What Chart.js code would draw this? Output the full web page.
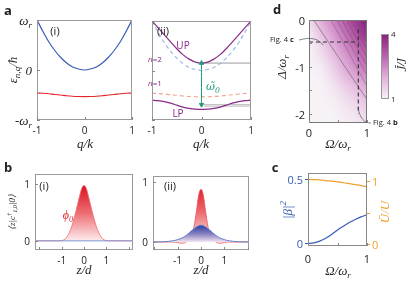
<!DOCTYPE html>
<html>
<head>
<meta charset="utf-8">
<script src="https://cdn.jsdelivr.net/npm/chart.js@4.4.1/dist/chart.umd.min.js"></script>
<style>
body{margin:0;background:#fff}
#fig{position:relative;width:415px;height:284px;overflow:hidden;font-family:'Open Sans',sans-serif;color:#222;background:#fff}
#fig canvas{position:absolute}
#fig svg{position:absolute;left:0;top:0}
.t{position:absolute;white-space:nowrap;font-size:10px;line-height:1}
.s{font-family:'Liberation Serif',serif;font-style:italic;font-size:12px}
.L{font-weight:bold;font-size:13px}
sub,sup{font-size:70%;line-height:0}
</style>
</head>
<body>
<div id="fig"></div>
<script>
// ---- data ----
// panel a : band energies vs q/k (in units of omega_r)
const qGrid = [-1,-0.875,-0.75,-0.625,-0.5,-0.375,-0.25,-0.125,0,0.125,0.25,0.375,0.5,0.625,0.75,0.875,1];
const bareUpper = [1,0.77,0.56,0.39,0.25,0.14,0.06,0.02,0,0.02,0.06,0.14,0.25,0.39,0.56,0.77,1];
const bareLower = [-0.46,-0.465,-0.475,-0.49,-0.5,-0.515,-0.525,-0.53,-0.532,-0.53,-0.525,-0.515,-0.5,-0.49,-0.475,-0.465,-0.46];
const upperPol = [1,0.86,0.72,0.58,0.44,0.32,0.23,0.17,0.15,0.17,0.23,0.32,0.44,0.58,0.72,0.86,1];
const lowerPol = [-0.6,-0.61,-0.63,-0.66,-0.7,-0.74,-0.765,-0.78,-0.785,-0.78,-0.765,-0.74,-0.7,-0.66,-0.63,-0.61,-0.6];
const upMin = 0.15, gapLow = -0.69, gapLow2 = -0.72;

// panel b : wavefunctions vs z/d
const zGrid = [-2.2,-1.6,-1.2,-1.0,-0.8,-0.6,-0.4,-0.3,-0.2,-0.1,0,0.1,0.2,0.3,0.4,0.6,0.8,1.0,1.2,1.6,2.2];
const phi0 = [0,0,0,0.005,0.05,0.2,0.46,0.62,0.78,0.92,0.97,0.92,0.78,0.62,0.46,0.2,0.05,0.005,0,0,0];
const redB2 = [0,0,0,-0.01,-0.02,0.01,0.1,0.25,0.5,0.78,0.88,0.78,0.5,0.25,0.1,0.01,-0.02,-0.01,0,0,0];
const blueB2 = [0,0.005,0.02,0.04,0.07,0.12,0.19,0.22,0.25,0.27,0.28,0.27,0.25,0.22,0.19,0.12,0.07,0.04,0.02,0.005,0];

// panel c : |beta|^2 and U-bar/U vs Omega/omega_r
const omegaC = [0,0.1,0.2,0.3,0.4,0.5,0.6,0.7,0.8,0.9,1];
const beta2 = [0,0.004,0.018,0.04,0.07,0.105,0.135,0.163,0.187,0.207,0.223];
const uRatio = [1.03,1.025,1.02,1.01,1.0,0.99,0.975,0.96,0.945,0.93,0.91];

// panel d : J-bar/J map (rows Delta, cols Omega)
const gridOmega = [0,0.2,0.4,0.6,0.8,1];
const gridDelta = [0,-0.2,-0.4,-0.6,-0.8,-1,-1.2,-1.4,-1.6,-1.8,-2,-2.2];
const jGrid = [
  [1.4,2.0,2.5,3.0,3.5,4.0],
  [1.2,1.8,2.3,2.8,3.3,3.8],
  [1.1,1.6,2.1,2.6,3.1,3.5],
  [1.0,1.4,1.9,2.4,2.8,3.2],
  [1.0,1.25,1.7,2.2,2.6,3.0],
  [1.0,1.1,1.5,2.0,2.4,2.75],
  [1.0,1.05,1.35,1.8,2.15,2.45],
  [1.0,1.0,1.2,1.55,1.85,2.15],
  [1.0,1.0,1.1,1.35,1.6,1.9],
  [1.0,1.0,1.05,1.2,1.4,1.65],
  [1.0,1.0,1.0,1.1,1.25,1.45],
  [1.0,1.0,1.0,1.05,1.15,1.35]
];
const contourTop = [0.08,0.38,0.48,0.57,0.65,0.72,0.79,0.86,0.93];
const contourRight = [-1.7,-1.42,-1.18,-0.98,-0.8,-0.63,-0.47,-0.32,-0.17];
const cutDelta = -0.47, cutOmega = 0.85;

const fig = document.getElementById('fig');
const M = 6;
const pts = (xs, ys) => xs.map((x, i) => ({x: x, y: ys[i]}));

const cmapStops = [[1,[246,242,246]],[2,[226,176,219]],[3,[185,96,171]],[4,[137,30,128]]];
function cmap(v) {
  v = Math.max(1, Math.min(4, v));
  for (let i = 0; i < 3; i++) {
    const [a, ca] = cmapStops[i], [b, cb] = cmapStops[i + 1];
    if (v <= b) {
      const t = (v - a) / (b - a);
      return ca.map((c, k) => Math.round(c + (cb[k] - c) * t));
    }
  }
}

// frame + tick marks
const framePlugin = {
  id: 'frame',
  afterDatasetsDraw(chart, args, o) {
    if (!o || !o.on) return;
    const c = chart.ctx, a = chart.chartArea;
    c.save();
    c.strokeStyle = o.color || '#9a9a9a';
    c.lineWidth = 1;
    c.strokeRect(a.left + 0.5, a.top + 0.5, a.right - a.left - 1, a.bottom - a.top - 1);
    (o.ticks || []).forEach(t => {
      const s = chart.scales[t.axis];
      c.strokeStyle = t.color || '#888';
      c.beginPath();
      t.v.forEach(v => {
        const p = Math.round(s.getPixelForValue(v)) + 0.5;
        if (t.axis === 'x') { c.moveTo(p, a.bottom); c.lineTo(p, a.bottom - t.len); }
        else if (t.axis === 'y2') { c.moveTo(a.right, p); c.lineTo(a.right - t.len, p); }
        else { c.moveTo(a.left, p); c.lineTo(a.left + t.len, p); }
      });
      c.stroke();
    });
    c.restore();
  }
};

// heat map drawn under datasets
const heatPlugin = {
  id: 'heat',
  beforeDatasetsDraw(chart, args, o) {
    if (!o || !o.on) return;
    const off = document.createElement('canvas');
    off.width = gridOmega.length; off.height = gridDelta.length;
    const oc = off.getContext('2d');
    const img = oc.createImageData(off.width, off.height);
    jGrid.forEach((row, j) => row.forEach((v, i) => {
      const col = cmap(v), k = (j * off.width + i) * 4;
      img.data[k] = col[0]; img.data[k + 1] = col[1]; img.data[k + 2] = col[2]; img.data[k + 3] = 255;
    }));
    oc.putImageData(img, 0, 0);
    const sx = chart.scales.x, sy = chart.scales.y, a = chart.chartArea, c = chart.ctx;
    const dO = gridOmega[1] - gridOmega[0], dD = gridDelta[0] - gridDelta[1];
    const x0 = sx.getPixelForValue(gridOmega[0] - dO / 2), x1 = sx.getPixelForValue(gridOmega[gridOmega.length - 1] + dO / 2);
    const y0 = sy.getPixelForValue(gridDelta[0] + dD / 2), y1 = sy.getPixelForValue(gridDelta[gridDelta.length - 1] - dD / 2);
    c.save();
    c.beginPath(); c.rect(a.left, a.top, a.right - a.left, a.bottom - a.top); c.clip();
    c.imageSmoothingEnabled = true; c.imageSmoothingQuality = 'high';
    c.drawImage(off, x0, y0, x1 - x0, y1 - y0);
    c.restore();
  }
};

// colour bar
const barPlugin = {
  id: 'cbar',
  beforeDatasetsDraw(chart, args, o) {
    if (!o || !o.on) return;
    const sy = chart.scales.y, a = chart.chartArea, c = chart.ctx;
    const g = c.createLinearGradient(0, sy.getPixelForValue(1), 0, sy.getPixelForValue(4));
    for (let v = 1; v <= 4.001; v += 0.25) {
      const col = cmap(v);
      g.addColorStop((v - 1) / 3, `rgb(${col[0]},${col[1]},${col[2]})`);
    }
    c.fillStyle = g;
    c.fillRect(a.left, a.top, a.right - a.left, a.bottom - a.top);
  }
};

function mk(box, datasets, scales, frame, extra) {
  const cv = document.createElement('canvas');
  cv.width = box.w + 2 * M; cv.height = box.h + 2 * M;
  cv.style.left = (box.x - M) + 'px'; cv.style.top = (box.y - M) + 'px';
  fig.appendChild(cv);
  const ch = new Chart(cv, {
    type: 'line',
    data: {datasets: datasets},
    options: {
      responsive: false, animation: false, devicePixelRatio: 1,
      layout: {padding: M},
      elements: {point: {radius: 0}, line: {cubicInterpolationMode: 'monotone', borderWidth: 1.2}},
      plugins: Object.assign({legend: {display: false}, tooltip: {enabled: false}, frame: frame}, extra || {}),
      scales: scales
    },
    plugins: [framePlugin, heatPlugin, barPlugin]
  });
  ch.ox = box.x - M; ch.oy = box.y - M;
  return ch;
}
const lin = (min, max, pos) => ({type: 'linear', min: min, max: max, display: false, position: pos});

// o: {cls, align, rot, color, size, font}
function txt(html, x, y, o) {
  o = o || {};
  const d = document.createElement('div');
  d.className = 't ' + (o.cls || '');
  d.innerHTML = html;
  d.style.left = x + 'px'; d.style.top = y + 'px';
  const tx = o.align === 'r' ? '-100%' : o.align === 'l' ? '0' : '-50%';
  d.style.transform = `translate(${tx},-50%)` + (o.rot ? ` rotate(${o.rot}deg)` : '');
  if (o.color) d.style.color = o.color;
  if (o.size) d.style.fontSize = o.size + 'px';
  if (o.font) d.style.fontFamily = o.font;
  fig.appendChild(d);
  return d;
}
// tick labels placed from the chart's own scales
function tl(ch, axis, vals, texts, gap, o) {
  const a = ch.chartArea, s = ch.scales[axis];
  vals.forEach((v, i) => {
    const p = s.getPixelForValue(v);
    if (axis === 'x') txt(texts[i], ch.ox + p, ch.oy + a.bottom + gap, Object.assign({}, o, {align: 'c'}));
    else if (axis === 'y2') txt(texts[i], ch.ox + a.right + gap, ch.oy + p, Object.assign({}, o, {align: 'l'}));
    else txt(texts[i], ch.ox + a.left - gap, ch.oy + p, Object.assign({}, o, {align: 'r'}));
  });
}

const BLUE = '#3a5cb8', RED = '#e4262c', PURPLE = '#8a2a88', TEAL = '#1f9a7c', ORANGE = '#eea12e';

// ---- panel a (i) ----
const a1 = mk({x: 37, y: 20, w: 95, h: 100}, [
  {data: pts(qGrid, bareUpper), borderColor: BLUE},
  {data: pts(qGrid, bareLower), borderColor: RED}
], {x: lin(-1, 1), y: lin(-1, 1)},
  {on: true, ticks: [{axis: 'y', v: [0, -1, 1], len: 3}, {axis: 'x', v: [-1, 0, 1], len: 3}]});
tl(a1, 'x', [-1, 0, 1], ['-1', '0', '1'], 10);
tl(a1, 'y', [1, 0, -1], ['<i>ω<sub>r</sub></i>', '0', '-<i>ω<sub>r</sub></i>'], 5, {cls: 's', size: 13});

// ---- panel a (ii) ----
const a2 = mk({x: 152, y: 21, w: 99, h: 99}, [
  {data: [{x: 0, y: upMin}, {x: 0, y: gapLow}], borderColor: TEAL, borderWidth: 1, pointStyle: 'triangle',
    pointRadius: 2.5, pointRotation: [0, 180], pointBackgroundColor: TEAL, pointBorderColor: TEAL},
  {data: pts(qGrid, upperPol), borderColor: PURPLE},
  {data: pts(qGrid, lowerPol), borderColor: PURPLE},
  {data: pts(qGrid, bareUpper), borderColor: '#9bb9e4', borderDash: [4, 3]},
  {data: pts(qGrid, bareLower), borderColor: '#f3a493', borderDash: [4, 3]},
  {data: [{x: 0, y: upMin}, {x: 1, y: upMin}], borderColor: '#9a9a9a', borderWidth: 1},
  {data: [{x: 0.05, y: gapLow}, {x: 1, y: gapLow}], borderColor: '#aaa', borderWidth: 0.8},
  {data: [{x: 0.05, y: gapLow2}, {x: 1, y: gapLow2}], borderColor: '#aaa', borderWidth: 0.8}
], {x: lin(-1, 1), y: lin(-1, 1)},
  {on: true, ticks: [{axis: 'y', v: [0, -1, 1], len: 3}, {axis: 'x', v: [-1, 0, 1], len: 3}]});
tl(a2, 'x', [-1, 0, 1], ['-1', '0', '1'], 10);

txt('a', 8, 10, {cls: 'L'});
txt('<i>ε<sub>n,q</sub></i>/<i>ħ</i>', 12, 70, {cls: 's', rot: -90, size: 13});
txt('<i>q</i>/<i>k</i>', 85, 143, {cls: 's', size: 13});
txt('<i>q</i>/<i>k</i>', 201, 143, {cls: 's', size: 13});
txt('(i)', 55, 30, {size: 11});
txt('(ii)', 163, 30, {size: 11});
txt('UP', 183, 45, {color: PURPLE});
txt('LP', 178, 113, {color: PURPLE});
txt('<i>n</i>=2', 155, 59, {color: PURPLE, size: 8});
txt('<i>n</i>=1', 155, 83, {color: PURPLE, size: 8});
txt('<i>ω̃</i><sub>0</sub>', 206, 86, {cls: 's', align: 'l', color: TEAL, font: "'DejaVu Serif',serif", size: 11});

// ---- panel b (i) ----
const redFill = ctx => {
  const ch = ctx.chart; if (!ch.chartArea) return 'transparent';
  const sy = ch.scales.y;
  const g = ch.ctx.createLinearGradient(0, sy.getPixelForValue(1), 0, sy.getPixelForValue(0));
  g.addColorStop(0, '#d80d1a'); g.addColorStop(0.5, '#ec6a6f'); g.addColorStop(1, '#fdecee');
  return g;
};
const blueFill = ctx => {
  const ch = ctx.chart; if (!ch.chartArea) return 'transparent';
  const sy = ch.scales.y;
  const g = ch.ctx.createLinearGradient(0, sy.getPixelForValue(0.28), 0, sy.getPixelForValue(0));
  g.addColorStop(0, '#2b3c9e'); g.addColorStop(0.55, '#8e86c4'); g.addColorStop(1, '#f1e6f2');
  return g;
};
const b1 = mk({x: 35, y: 174, w: 98, h: 76}, [
  {data: [{x: -2.2, y: 0}, {x: 2.2, y: 0}], borderColor: '#7d96d4', borderWidth: 1},
  {data: pts(zGrid, phi0), borderColor: '#f06a70', borderWidth: 0.8, fill: 'origin', backgroundColor: redFill}
], {x: lin(-2.2, 2.2), y: lin(-0.16, 1.17)},
  {on: true, ticks: [{axis: 'y', v: [0, 1], len: 3}, {axis: 'x', v: [-2, -1, 0, 1, 2], len: 3}]});
tl(b1, 'x', [-1, 0, 1], ['-1', '0', '1'], 10);
tl(b1, 'y', [1, 0], ['1', '0'], 5);

// ---- panel b (ii) ----
const b2 = mk({x: 153, y: 176, w: 96, h: 74}, [
  {data: pts(zGrid, blueB2), borderColor: '#5f7fcc', borderWidth: 1, fill: 'origin', backgroundColor: blueFill},
  {data: pts(zGrid, redB2), borderColor: '#e8545a', borderWidth: 0.8, fill: 'origin', backgroundColor: redFill}
], {x: lin(-2.05, 2.05), y: lin(-0.133, 1.1)},
  {on: true, ticks: [{axis: 'y', v: [0, 1], len: 3}, {axis: 'x', v: [-2, -1, 0, 1, 2], len: 3}]});
tl(b2, 'x', [-1, 0, 1], ['-1', '0', '1'], 10);
tl(b2, 'y', [1, 0], ['1', '0'], 5);

txt('b', 8, 167, {cls: 'L'});
txt('⟨<i>z</i>|<i>c</i><sup>†</sup><sub>1,0</sub>|0⟩', 12, 212, {cls: 's', rot: -90, size: 9});
txt('<i>z</i>/<i>d</i>', 84, 269, {cls: 's', size: 13});
txt('<i>z</i>/<i>d</i>', 201, 269, {cls: 's', size: 13});
txt('(i)', 44, 185, {size: 11});
txt('(ii)', 170, 185, {size: 11});
txt('<i>ϕ</i><sub>0</sub>', 68, 215, {cls: 's', color: RED});

// ---- panel c ----
const cc = mk({x: 308, y: 173, w: 59, h: 73}, [
  {data: pts(omegaC, beta2), borderColor: BLUE, yAxisID: 'y'},
  {data: pts(omegaC, uRatio), borderColor: ORANGE, yAxisID: 'y2'}
], {x: lin(0, 1), y: lin(-0.02, 0.55, 'left'), y2: lin(-0.03, 1.13, 'right')},
  {on: true, color: '#888', ticks: [
    {axis: 'y', v: [0, 0.5], len: -3, color: BLUE},
    {axis: 'y2', v: [0, 0.5, 1], len: -3, color: ORANGE},
    {axis: 'x', v: [0, 0.5, 1], len: 3}]});
tl(cc, 'x', [0, 1], ['0', '1'], 12, {size: 11});
tl(cc, 'y', [0.5, 0], ['0.5', '0'], 5, {color: BLUE, size: 11});
tl(cc, 'y2', [1, 0], ['1', '0'], 5, {color: ORANGE, size: 11});
txt('c', 275, 167, {cls: 'L'});
txt('|<i>β</i>|<sup>2</sup>', 287, 210, {cls: 's', rot: -90, color: BLUE, size: 13});
txt('<i>Ū</i>/<i>U</i>', 384, 212, {cls: 's', rot: -90, color: ORANGE, size: 13});
txt('Ω/<i>ω<sub>r</sub></i>', 338, 270, {cls: 's', size: 13});

// ---- panel d ----
const contours = contourTop.map((t, i) => ({
  data: [{x: t, y: 0}, {x: 1, y: contourRight[i]}],
  borderColor: i === 0 ? 'rgba(105,105,105,0.85)' : 'rgba(100,70,100,0.6)',
  borderWidth: i === 0 ? 0.8 : 0.6, cubicInterpolationMode: 'default', tension: 0
}));
const dd = mk({x: 309, y: 20, w: 58, h: 103}, [
  {data: [{x: 0, y: cutDelta}, {x: cutOmega, y: cutDelta}], borderColor: '#333', borderWidth: 1.1, borderDash: [4, 3]},
  {data: [{x: cutOmega, y: -0.2}, {x: cutOmega, y: -2.0}], borderColor: '#333', borderWidth: 1.1, borderDash: [4, 3]}
].concat(contours), {x: lin(0, 1), y: lin(-2.2, 0)},
  {on: true, color: '#777', ticks: [{axis: 'y', v: [0, -0.5, -1, -1.5, -2], len: 3}, {axis: 'x', v: [0, 0.5, 1], len: 3}]},
  {heat: {on: true}});
tl(dd, 'x', [0, 1], ['0', '1'], 9, {size: 11});
tl(dd, 'y', [0, -1, -2], ['0', '-1', '-2'], 4, {size: 11});

const cb = mk({x: 381, y: 34, w: 8, h: 65}, [], {x: lin(0, 1), y: lin(1, 4, 'left'), y2: lin(1, 4, 'right')},
  {on: true, color: '#999', ticks: []}, {cbar: {on: true}});
tl(cb, 'y2', [4, 1], ['4', '1'], 2, {size: 8});

txt('d', 277, 9, {cls: 'L'});
txt('Δ/<i>ω<sub>r</sub></i>', 281, 67, {cls: 's', rot: -90, size: 13});
txt('Ω/<i>ω<sub>r</sub></i>', 338, 143, {cls: 's', size: 13});
txt('<i>J̄</i>/<i>J</i>', 401, 64, {cls: 's', rot: -90, size: 10, font: "'DejaVu Serif',serif"});
txt('Fig. 4 <b>c</b>', 270, 40, {align: 'l', size: 7.5});
txt('Fig. 4 <b>b</b>', 373, 123, {align: 'l', size: 7.5});

// leader curves for the cut annotations
const svg = document.createElementNS('http://www.w3.org/2000/svg', 'svg');
svg.setAttribute('width', 415); svg.setAttribute('height', 284);
svg.innerHTML = '<path d="M299,40 C310,37 318,38 323,45" fill="none" stroke="#555" stroke-width="0.7"/>' +
  '<path d="M358,108 C360,118 364,123 371,123" fill="none" stroke="#555" stroke-width="0.7"/>';
fig.appendChild(svg);
</script>
</body>
</html>
